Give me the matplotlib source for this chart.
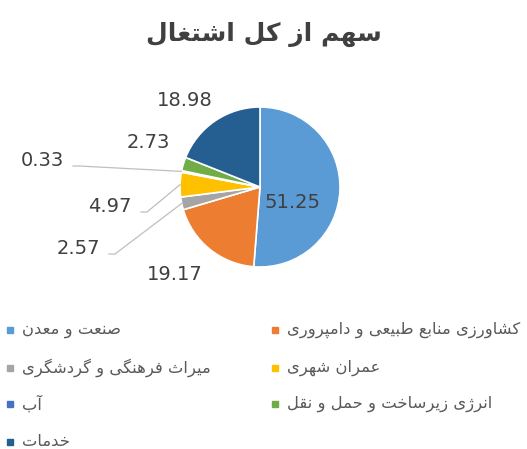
import matplotlib
matplotlib.use("Agg")
import matplotlib.pyplot as plt
from matplotlib.patches import Rectangle
import numpy as np

# data
title = "سهم از کل اشتغال"
sectors = ["صنعت و معدن", "کشاورزی منابع طبیعی و دامپروری", "میراث فرهنگی و گردشگری",
           "عمران شهری", "آب", "انرژی زیرساخت و حمل و نقل", "خدمات"]
shares = [51.25, 19.17, 2.57, 4.97, 0.33, 2.73, 18.98]
colors = ["#5B9BD5", "#ED7D31", "#A5A5A5", "#FFC000", "#4472C4", "#70AD47", "#255E91"]

# label spots in pixels (x, y from top) and whether a leader line is drawn
label_pos = [(293, 203), (175, 275), (78, 248), (110, 206), (42, 160), (148, 143), (185, 100)]
leader = [False, False, True, True, True, False, False]

# very small arabic/persian shaper (matplotlib has no text shaping)
FORMS = {
    "ا": (0xFE8D, 0xFE8E), "آ": (0xFE81, 0xFE82), "د": (0xFEA9, 0xFEAA), "ذ": (0xFEAB, 0xFEAC),
    "ر": (0xFEAD, 0xFEAE), "ز": (0xFEAF, 0xFEB0), "ژ": (0xFB8A, 0xFB8B), "و": (0xFEED, 0xFEEE),
    "ب": (0xFE8F, 0xFE90, 0xFE91, 0xFE92), "پ": (0xFB56, 0xFB57, 0xFB58, 0xFB59),
    "ت": (0xFE95, 0xFE96, 0xFE97, 0xFE98), "ث": (0xFE99, 0xFE9A, 0xFE9B, 0xFE9C),
    "ج": (0xFE9D, 0xFE9E, 0xFE9F, 0xFEA0), "ح": (0xFEA1, 0xFEA2, 0xFEA3, 0xFEA4),
    "خ": (0xFEA5, 0xFEA6, 0xFEA7, 0xFEA8), "س": (0xFEB1, 0xFEB2, 0xFEB3, 0xFEB4),
    "ش": (0xFEB5, 0xFEB6, 0xFEB7, 0xFEB8), "ص": (0xFEB9, 0xFEBA, 0xFEBB, 0xFEBC),
    "ض": (0xFEBD, 0xFEBE, 0xFEBF, 0xFEC0), "ط": (0xFEC1, 0xFEC2, 0xFEC3, 0xFEC4),
    "ظ": (0xFEC5, 0xFEC6, 0xFEC7, 0xFEC8), "ع": (0xFEC9, 0xFECA, 0xFECB, 0xFECC),
    "غ": (0xFECD, 0xFECE, 0xFECF, 0xFED0), "ف": (0xFED1, 0xFED2, 0xFED3, 0xFED4),
    "ق": (0xFED5, 0xFED6, 0xFED7, 0xFED8), "ک": (0xFB8E, 0xFB8F, 0xFB90, 0xFB91),
    "گ": (0xFB92, 0xFB93, 0xFB94, 0xFB95), "ل": (0xFEDD, 0xFEDE, 0xFEDF, 0xFEE0),
    "م": (0xFEE1, 0xFEE2, 0xFEE3, 0xFEE4), "ن": (0xFEE5, 0xFEE6, 0xFEE7, 0xFEE8),
    "ه": (0xFEE9, 0xFEEA, 0xFEEB, 0xFEEC), "ی": (0xFBFC, 0xFBFD, 0xFBFE, 0xFBFF),
}


def shape(s):
    out = []
    for i, c in enumerate(s):
        f = FORMS.get(c)
        if f is None:
            out.append(c)
            continue
        prev = s[i - 1] if i > 0 else ""
        nxt = s[i + 1] if i + 1 < len(s) else ""
        join_prev = prev in FORMS and len(FORMS[prev]) == 4
        join_next = len(f) == 4 and nxt in FORMS
        if join_prev and join_next:
            code = f[3]
        elif join_prev:
            code = f[1]
        elif join_next:
            code = f[2]
        else:
            code = f[0]
        out.append(chr(code))
    return "".join(out)[::-1]


W, H = 527, 449
fig = plt.figure(figsize=(W / 100, H / 100), dpi=100)
ax = fig.add_axes([0, 0, 1, 1])

cx, cy, r = 260, H - 187, 80
wedges, _ = ax.pie(shares, colors=colors, startangle=90, counterclock=False,
                   center=(cx, cy), radius=r,
                   wedgeprops=dict(edgecolor="white", linewidth=1.2))
ax.set_xlim(0, W)
ax.set_ylim(0, H)
ax.set_aspect("equal")
ax.axis("off")

for w, val, (lx, ly), lead in zip(wedges, shares, label_pos, leader):
    ax.text(lx, H - ly, f"{val:.2f}", ha="center", va="center",
            fontsize=14, color="#404040")
    if lead:
        mid = np.deg2rad((w.theta1 + w.theta2) / 2)
        ex, ey = cx + r * np.cos(mid), cy + r * np.sin(mid)
        sx = lx + 31
        sy = H - ly - 6
        ax.plot([sx, sx + 6, ex], [sy, sy, ey], color="#BFBFBF", lw=0.9)

fig.text(0.5, 1 - 34 / H, shape(title), ha="center", va="center",
         fontsize=18, fontweight="bold", color="#404040", family="DejaVu Sans")

# legend, two columns, row by row
col_x = [10, 275]
row_y = [330, 368, 404, 442]
for i, (name, c) in enumerate(zip(sectors, colors)):
    mx = col_x[i % 2]
    my = row_y[i // 2]
    ax.add_patch(Rectangle((mx - 3, H - my - 3), 6, 6, color=c))
    ax.text(mx + 12, H - my, shape(name), ha="left", va="center",
            fontsize=11.8, color="#595959", family="DejaVu Sans")

fig.savefig("out.png", dpi=100, facecolor="white")
